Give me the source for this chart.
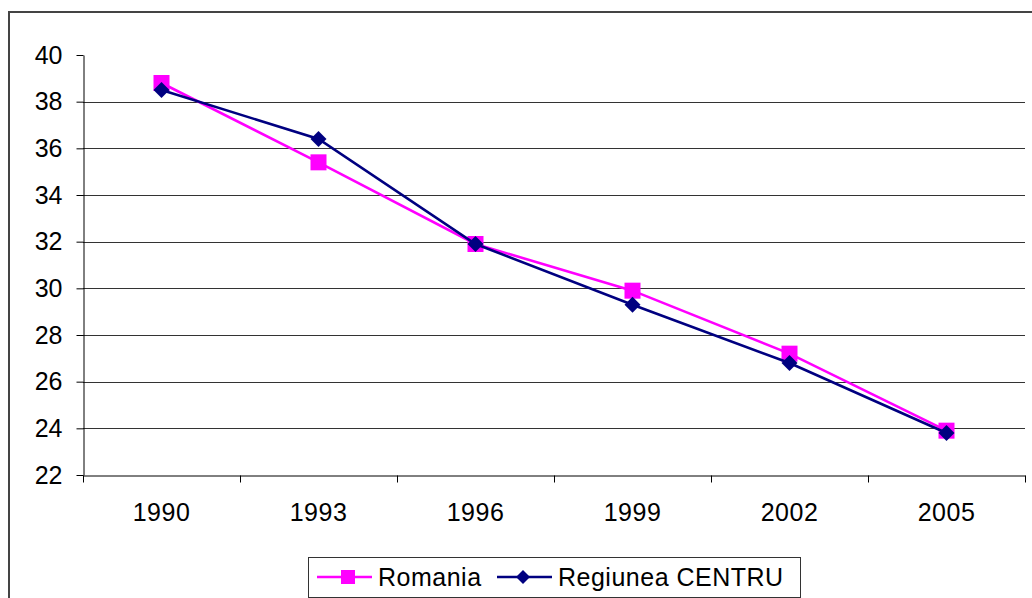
<!DOCTYPE html>
<html>
<head>
<meta charset="utf-8">
<script src="https://cdn.jsdelivr.net/npm/d3@7"></script>
<style>
  body { margin: 0; background: #fff; }
  text { font-family: "Liberation Sans", Arial, sans-serif; }
</style>
</head>
<body>
<script>
  var years = ['1990', '1993', '1996', '1999', '2002', '2005'];
  var romania = [38.8, 35.4, 31.9, 29.9, 27.2, 23.9];
  var centru = [38.5, 36.4, 31.9, 29.3, 26.8, 23.8];
  var yTicks = [22, 24, 26, 28, 30, 32, 34, 36, 38, 40];
  var seriesNames = ['Romania', 'Regiunea CENTRU'];

(function() {
  var w = 1032;
  var h = 598;
  var plotLeft = 83, plotRight = 1025, plotTop = 55, plotBottom = 475;

  var svg = d3
    .select('body')
    .append('svg')
    .attr('width', w)
    .attr('height', h);

  // outer chart border (runs off the right and bottom)
  svg
    .append('rect')
    .attr('x', 9)
    .attr('y', 12)
    .attr('width', 1040)
    .attr('height', 600)
    .attr('fill', 'none')
    .attr('stroke', '#444')
    .attr('stroke-width', 2);

  var xScale = d3
    .scaleBand()
    .domain(years)
    .range([plotLeft, plotRight])
    .padding(0);

  var yScale = d3
    .scaleLinear()
    .domain([22, 40])
    .range([plotBottom, plotTop]);

  var cx = d => xScale(d) + xScale.bandwidth() / 2;

  // gridlines
  svg
    .append('g')
    .selectAll('line')
    .data(yTicks.filter(d => d > 22 && d < 40))
    .enter()
    .append('line')
    .attr('x1', plotLeft)
    .attr('x2', plotRight)
    .attr('y1', d => Math.round(yScale(d)) + 0.5)
    .attr('y2', d => Math.round(yScale(d)) + 0.5)
    .attr('stroke', '#333')
    .attr('stroke-width', 1);

  // y axis
  var yAxis = d3
    .axisLeft(yScale)
    .tickValues(yTicks)
    .tickSizeInner(7)
    .tickSizeOuter(0)
    .tickPadding(14);

  var gy = svg
    .append('g')
    .attr('transform', `translate(${plotLeft + 0.5}, 0)`)
    .call(yAxis);
  gy.selectAll('text')
    .attr('font-size', 25)
    .attr('fill', '#000')
    .attr('font-family', '"Liberation Sans", Arial, sans-serif');
  gy.selectAll('line, path').attr('stroke', '#000');

  // x axis: labels at band centres, ticks at band edges
  var xAxis = d3
    .axisBottom(xScale)
    .tickSize(0)
    .tickPadding(28);

  var gx = svg
    .append('g')
    .attr('transform', `translate(0, ${plotBottom + 0.5})`)
    .call(xAxis);
  gx.select('.domain').attr('stroke', '#000');
  gx.selectAll('text')
    .attr('font-size', 25)
    .attr('letter-spacing', 0.5)
    .attr('fill', '#000')
    .attr('font-family', '"Liberation Sans", Arial, sans-serif');

  gx.append('g')
    .selectAll('line')
    .data(years.map(d => xScale(d)).concat([plotRight]))
    .enter()
    .append('line')
    .attr('x1', d => Math.round(d) + 0.5)
    .attr('x2', d => Math.round(d) + 0.5)
    .attr('y1', 0)
    .attr('y2', 7)
    .attr('stroke', '#000');

  var line = d3
    .line()
    .x((d, i) => cx(years[i]))
    .y(d => yScale(d));

  var diamond = s => `M0,${-s}L${s},0L0,${s}L${-s},0Z`;

  // Romania
  svg
    .append('path')
    .datum(romania)
    .attr('d', line)
    .attr('fill', 'none')
    .attr('stroke', '#ff00ff')
    .attr('stroke-width', 2.6);

  svg
    .append('g')
    .selectAll('rect')
    .data(romania)
    .enter()
    .append('rect')
    .attr('x', (d, i) => cx(years[i]) - 8)
    .attr('y', d => yScale(d) - 8)
    .attr('width', 16)
    .attr('height', 16)
    .attr('fill', '#ff00ff');

  // Regiunea CENTRU
  svg
    .append('path')
    .datum(centru)
    .attr('d', line)
    .attr('fill', 'none')
    .attr('stroke', '#000080')
    .attr('stroke-width', 2.6);

  svg
    .append('g')
    .selectAll('path')
    .data(centru)
    .enter()
    .append('path')
    .attr('d', diamond(8))
    .attr('transform', (d, i) => `translate(${cx(years[i])}, ${yScale(d)})`)
    .attr('fill', '#000080');

  // legend
  var legend = svg.append('g');
  legend
    .append('rect')
    .attr('x', 308.5)
    .attr('y', 557.5)
    .attr('width', 492)
    .attr('height', 40)
    .attr('fill', '#fff')
    .attr('stroke', '#333');

  var ly = 577;
  legend
    .append('line')
    .attr('x1', 317)
    .attr('x2', 372)
    .attr('y1', ly)
    .attr('y2', ly)
    .attr('stroke', '#ff00ff')
    .attr('stroke-width', 2.6);
  legend
    .append('rect')
    .attr('x', 348 - 7)
    .attr('y', ly - 7)
    .attr('width', 14)
    .attr('height', 14)
    .attr('fill', '#ff00ff');
  legend
    .append('text')
    .attr('x', 378)
    .attr('y', ly)
    .attr('dy', '0.35em')
    .attr('font-size', 25)
    .attr('letter-spacing', 0.5)
    .text(seriesNames[0]);

  legend
    .append('line')
    .attr('x1', 497)
    .attr('x2', 552)
    .attr('y1', ly)
    .attr('y2', ly)
    .attr('stroke', '#000080')
    .attr('stroke-width', 2.6);
  legend
    .append('path')
    .attr('d', diamond(7))
    .attr('transform', `translate(523, ${ly})`)
    .attr('fill', '#000080');
  legend
    .append('text')
    .attr('x', 558)
    .attr('y', ly)
    .attr('dy', '0.35em')
    .attr('font-size', 25)
    .attr('letter-spacing', 0.5)
    .text(seriesNames[1]);
})();
</script>
</body>
</html>
